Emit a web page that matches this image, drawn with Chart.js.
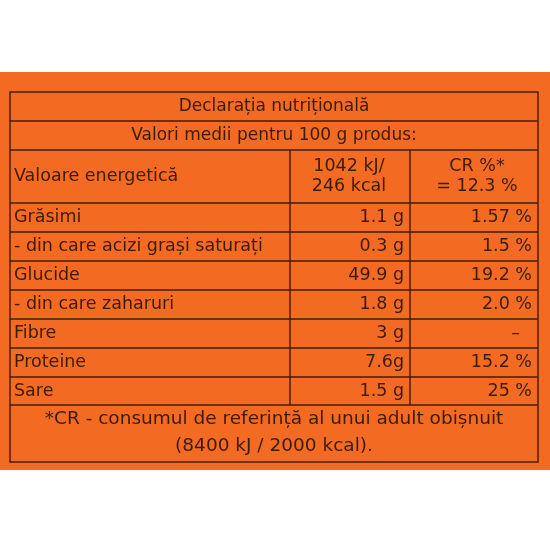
<!DOCTYPE html>
<html><head><meta charset="utf-8">
<script src="https://cdn.jsdelivr.net/npm/chart.js@4"></script>
<style>html,body{margin:0;background:#fff}</style>
</head><body>
<canvas id="c" width="550" height="550"></canvas>
<script>
const title = 'Declarația nutrițională'
const subtitle = 'Valori medii pentru 100 g produs:'
const nutrients = ['Valoare energetică', 'Grăsimi', '- din care acizi grași saturați', 'Glucide', '- din care zaharuri', 'Fibre', 'Proteine', 'Sare']
const amounts = [['1042 kJ/', '246 kcal'], ['1.1 g'], ['0.3 g'], ['49.9 g'], ['1.8 g'], ['3 g'], ['7.6g'], ['1.5 g']]
const crValues = [['CR %*', '= 12.3 %'], ['1.57 %'], ['1.5 %'], ['19.2 %'], ['2.0 %'], ['–'], ['15.2 %'], ['25 %']]
const footnote = ['*CR - consumul de referință al unui adult obișnuit', '(8400 kJ / 2000 kcal).']

const rowEdges = [92, 121, 150, 203, 232, 261, 290, 319, 348, 377, 405, 462]
const ink = '#3b1c0c'

const tablePlugin = {
  id: 'table',
  beforeDraw(chart) {
    const { ctx, scales: { x, y } } = chart
    const px = v => x.getPixelForValue(v)
    const py = v => y.getPixelForValue(v)
    ctx.save()
    ctx.fillStyle = '#f36b22'
    ctx.fillRect(px(0), py(72), px(550) - px(0), py(470) - py(72))

    ctx.strokeStyle = ink
    ctx.lineWidth = 1.4
    ctx.strokeRect(px(10), py(92), px(538) - px(10), py(462) - py(92))
    rowEdges.slice(1, -1).forEach(r => {
      ctx.beginPath(); ctx.moveTo(px(10), py(r)); ctx.lineTo(px(538), py(r)); ctx.stroke()
    })
    ;[290, 410].forEach(c => {
      ctx.beginPath(); ctx.moveTo(px(c), py(150)); ctx.lineTo(px(c), py(405)); ctx.stroke()
    })

    ctx.fillStyle = ink
    ctx.textBaseline = 'middle'
    ctx.textAlign = 'center'
    ctx.font = '17px "DejaVu Sans"'
    ctx.fillText(title, px(274), py(107))
    ctx.fillText(subtitle, px(274), py(136))

    ctx.font = '17.5px "DejaVu Sans"'
    nutrients.forEach((name, i) => {
      const top = rowEdges[i + 2], bot = rowEdges[i + 3]
      const mid = (top + bot) / 2
      ctx.textAlign = 'left'
      ctx.fillText(name, px(14), py(mid))
      const drawCell = (lines, right) => {
        ctx.textAlign = lines.length > 1 ? 'center' : 'right'
        lines.forEach((t, k) => {
          const yy = mid + (k - (lines.length - 1) / 2) * 20
          ctx.fillText(t, lines.length > 1 ? px(right - 55) : px(right), py(yy))
        })
      }
      drawCell(amounts[i], 404)
      drawCell(crValues[i], i === 5 ? 520 : 532)
    })

    ctx.textAlign = 'center'
    ctx.font = '18.5px "DejaVu Sans"'
    ctx.fillText(footnote[0], px(274), py(419))
    ctx.fillText(footnote[1], px(274), py(446))
    ctx.restore()
  }
}

new Chart(document.getElementById('c'), {
  type: 'scatter',
  data: { datasets: [{ data: [] }] },
  options: {
    responsive: false,
    animation: false,
    layout: { padding: 0 },
    plugins: { legend: { display: false }, tooltip: { enabled: false } },
    scales: {
      x: { type: 'linear', min: 0, max: 550, display: false },
      y: { type: 'linear', min: 0, max: 550, reverse: true, display: false }
    }
  },
  plugins: [tablePlugin]
})
</script>
</body></html>
